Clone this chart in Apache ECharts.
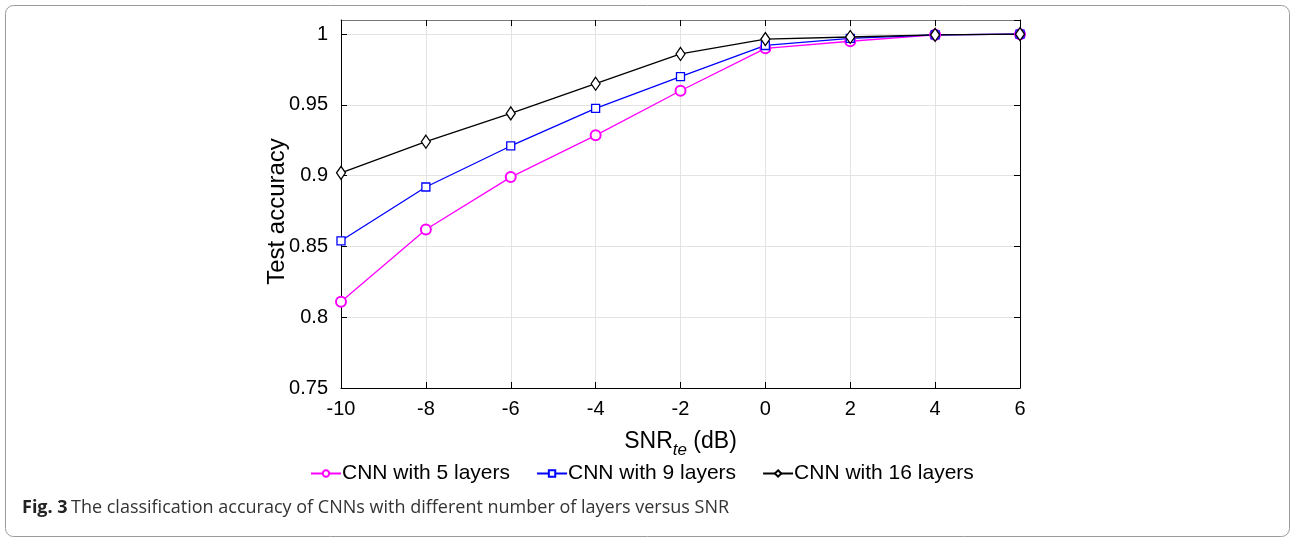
<!DOCTYPE html>
<html>
<head>
<meta charset="utf-8">
<title>CNN accuracy vs SNR</title>
<script src="https://cdn.jsdelivr.net/npm/echarts@6/dist/echarts.min.js"></script>
<style>
  html, body { margin: 0; padding: 0; background: #fff; }
  #chart { width: 1290px; height: 537px; }
</style>
</head>
<body>
<div id="chart"></div>
<script>
// data
var snr = [-10, -8, -6, -4, -2, 0, 2, 4, 6];
var cnn5 = [0.811, 0.862, 0.899, 0.9285, 0.960, 0.990, 0.995, 0.9995, 1.0];
var cnn9 = [0.854, 0.892, 0.921, 0.9475, 0.970, 0.992, 0.997, 0.9995, 1.0];
var cnn16 = [0.902, 0.924, 0.944, 0.965, 0.986, 0.9965, 0.998, 0.9995, 1.0];
var seriesNames = ['CNN with 5 layers', 'CNN with 9 layers', 'CNN with 16 layers'];

function pairs(ys) {
    var out = [];
    for (var i = 0; i < snr.length; i++) out.push([snr[i], ys[i]]);
    return out;
}

var font = 'Liberation Sans';
var chart = echarts.init(document.getElementById('chart'));

var option = {
    animation: false,
    grid: { left: 341, right: 270, top: 20, bottom: 149 },
    legend: {
        top: 458,
        left: 305,
        itemGap: 26,
        itemWidth: 30,
        itemHeight: 8,
        textStyle: { fontFamily: font, fontSize: 21, color: '#000', padding: [0, 0, 0, -4] },
        data: seriesNames
    },
    xAxis: [{
        type: 'value', min: -10, max: 6, interval: 2,
        name: '{a|SNR}{s|te}{a| (dB)}', nameLocation: 'middle', nameGap: 36,
        nameTextStyle: {
            rich: {
                a: { fontFamily: font, fontSize: 23, color: '#000' },
                s: { fontFamily: font, fontSize: 17, fontStyle: 'italic', color: '#000', verticalAlign: 'top', padding: [18, 0, 0, 0] }
            }
        },
        axisLine: { onZero: false, lineStyle: { color: '#000', width: 1 } },
        axisTick: { inside: true, length: 6, lineStyle: { color: '#000' } },
        axisLabel: { fontFamily: font, fontSize: 20, color: '#000', margin: 11 },
        splitLine: { show: true, lineStyle: { color: '#e3e3e3', width: 1 } }
    }, {
        type: 'value', min: -10, max: 6, interval: 2, position: 'top',
        axisLine: { show: true, onZero: false, lineStyle: { color: '#777', width: 1 } },
        axisTick: { show: true, inside: true, length: 6, lineStyle: { color: '#000' } },
        axisLabel: { show: false },
        splitLine: { show: false }
    }],
    yAxis: [{
        type: 'value', min: 0.75, max: 1.01, interval: 0.05,
        name: 'Test accuracy', nameLocation: 'middle', nameGap: 52, nameMoveOverlap: false,
        nameTextStyle: { fontFamily: font, fontSize: 24, color: '#000', padding: [0, 15, 0, 0] },
        axisLine: { show: true, onZero: false, lineStyle: { color: '#000', width: 1 } },
        axisTick: { show: true, inside: true, length: 6, lineStyle: { color: '#000' } },
        axisLabel: {
            fontFamily: font, fontSize: 20, color: '#000', margin: 13, showMaxLabel: false,
            formatter: function (v) { return Math.round(v * 100) / 100; }
        },
        splitLine: { show: true, lineStyle: { color: '#e3e3e3', width: 1 } }
    }, {
        type: 'value', min: 0.75, max: 1.01, interval: 0.05, position: 'right',
        axisLine: { show: true, onZero: false, lineStyle: { color: '#000', width: 1 } },
        axisTick: { show: true, inside: true, length: 6, lineStyle: { color: '#000' } },
        axisLabel: { show: false },
        splitLine: { show: false }
    }],
    series: [{
        name: seriesNames[0], type: 'line', data: pairs(cnn5),
        symbol: 'emptyCircle', symbolSize: 10,
        lineStyle: { color: '#ff00ff', width: 1.3 },
        itemStyle: { color: '#ff00ff', borderWidth: 1.3 }
    }, {
        name: seriesNames[1], type: 'line', data: pairs(cnn9),
        symbol: 'rect', symbolSize: 8,
        lineStyle: { color: '#0000ff', width: 1.3 },
        itemStyle: { color: '#fff', borderColor: '#0000ff', borderWidth: 1.3 }
    }, {
        name: seriesNames[2], type: 'line', data: pairs(cnn16),
        symbol: 'diamond', symbolSize: [9, 13],
        lineStyle: { color: '#000', width: 1.3 },
        itemStyle: { color: '#fff', borderColor: '#000', borderWidth: 1.3 }
    }],
    graphic: [{
        type: 'rect', left: 3, top: 3,
        shape: { width: 1284, height: 531, r: 8 },
        style: { fill: 'none', stroke: '#9a9a9a', lineWidth: 1 },
        silent: true
    }, {
        type: 'text', left: 22, top: 499,
        style: {
            text: '{b|Fig. 3} {n|The classification accuracy of CNNs with different number of layers versus SNR}',
            rich: {
                b: { fontFamily: 'Open Sans', fontSize: 18, fontWeight: 'bold', fill: '#222' },
                n: { fontFamily: 'Open Sans', fontSize: 18, fill: '#333' }
            }
        }
    }]
};
chart.setOption(option);
</script>
</body>
</html>
